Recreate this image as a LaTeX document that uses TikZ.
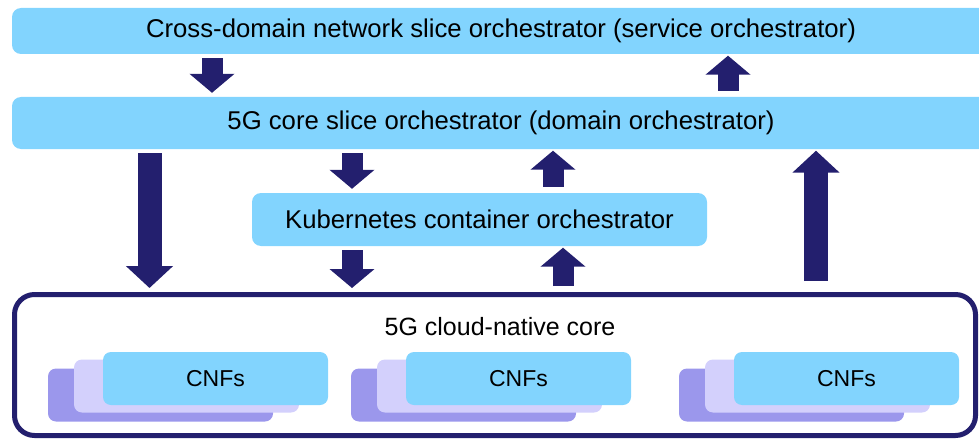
\documentclass[tikz,border=0pt]{standalone}
\usepackage{fontspec}
\setmainfont{Liberation Sans}
\usetikzlibrary{arrows.meta}
\definecolor{barblue}{HTML}{82D4FE}
\definecolor{navy}{HTML}{231F6E}
\definecolor{stackdark}{HTML}{9B97EC}
\definecolor{stacklight}{HTML}{D3D0FC}

\tikzset{
  txt/.style={font=\fontsize{25}{28}\selectfont},
  bar/.style={font=\fontsize{25.7}{29}\selectfont, fill=barblue,
    rounded corners=9pt, inner sep=0pt},
  cnf/.style={font=\fontsize{23}{26}\selectfont, fill=#1, rounded corners=8pt,
    inner sep=0pt, minimum width=225pt, minimum height=53pt},
  smallarrow/.style={navy, line width=21pt, -{Triangle[length=19pt, width=44pt]}},
  longarrow/.style={navy, line width=24pt, -{Triangle[length=22pt, width=46pt]}},
  down/.style={shorten <=4pt, shorten >=4pt},
  up/.style={shorten <=6pt, shorten >=1.5pt}
}

\begin{document}
\begin{tikzpicture}[x=1pt, y=-1pt, line join=round]
\useasboundingbox (0,0) rectangle (979,441);

% Orchestrator bars
\node[bar, minimum width=978pt, minimum height=46pt] (cross) at (501,31)
  {Cross-domain network slice orchestrator (service orchestrator)};
\node[bar, minimum width=978pt, minimum height=52pt] (core) at (501,123)
  {5G core slice orchestrator (domain orchestrator)};
\node[bar, minimum width=455pt, minimum height=53pt] (kube) at (479.5,219.5)
  {Kubernetes container orchestrator};

% Cloud-native core
\node[draw=navy, line width=5pt, rounded corners=20pt, minimum width=961pt,
  minimum height=141pt] (cloud) at (495,365) {};
\node[txt] (cloudlbl) at (500,327) {5G cloud-native core};

% CNF stacks
\foreach \cx [count=\i] in {215.5, 518.5, 846.5} {
  \node[cnf=stackdark] (back\i) at (\cx-55,395) {};
  \node[cnf=stacklight] (mid\i) at (\cx-29,386) {};
  \node[cnf=barblue] (cnf\i) at (\cx,378.5) {CNFs};
}

% Arrow columns
\coordinate (colA) at (212,0);
\coordinate (colB) at (728,0);
\coordinate (colC) at (149.5,0);
\coordinate (colD) at (352,0);
\coordinate (colE) at (553,0);
\coordinate (colF) at (563,0);
\coordinate (colG) at (816,0);

% Arrows
\draw[smallarrow, down] (cross.south -| colA) -- (core.north -| colA);
\draw[smallarrow, up] (core.north -| colB) -- (cross.south -| colB);
\draw[longarrow, down] (core.south -| colC) -- (cloud.north -| colC);
\draw[smallarrow, down] (core.south -| colD) -- (kube.north -| colD);
\draw[smallarrow, up] (kube.north -| colE) -- (core.south -| colE);
\draw[smallarrow, down] (kube.south -| colD) -- (cloud.north -| colD);
\draw[smallarrow, up] (cloud.north -| colF) -- (kube.south -| colF);
\draw[longarrow, up, shorten <=11pt] (cloud.north -| colG) -- (core.south -| colG);

\end{tikzpicture}
\end{document}
